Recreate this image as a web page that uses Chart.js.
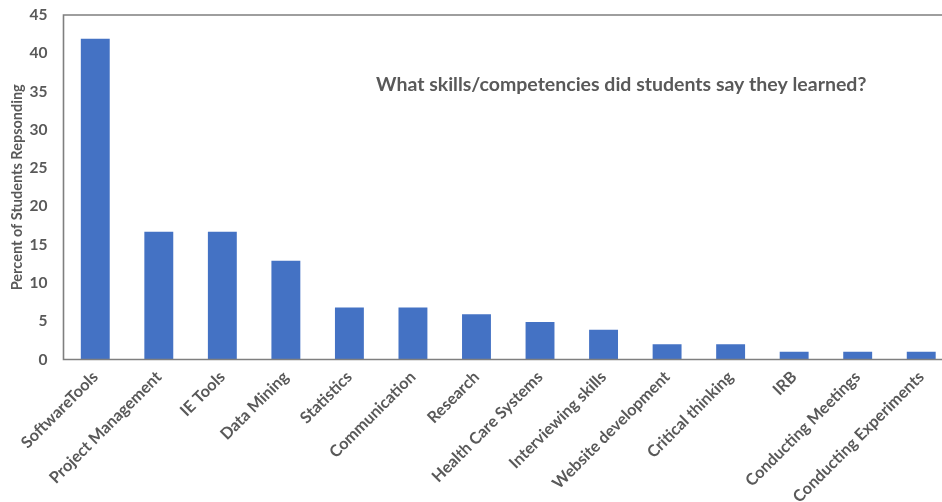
<!DOCTYPE html>
<html>
<head>
<meta charset="utf-8">
<script src="https://cdn.jsdelivr.net/npm/chart.js@4/dist/chart.umd.min.js"></script>
<style>
  html, body { margin: 0; padding: 0; background: #ffffff; overflow: hidden; }
  #wrap { position: relative; width: 955px; height: 502px; }
</style>
</head>
<body>
<div id="wrap"><canvas id="chart"></canvas></div>
<script>
// Skills reported by students (percent responding)
const skills = [
  'SoftwareTools', 'Project Management', 'IE Tools', 'Data Mining', 'Statistics',
  'Communication', 'Research', 'Health Care Systems', 'Interviewing skills',
  'Website development', 'Critical thinking', 'IRB', 'Conducting Meetings',
  'Conducting Experiments'
];
const percentResponding = [41.9, 16.7, 16.7, 12.9, 6.8, 6.8, 5.9, 4.9, 3.9, 2.0, 2.0, 1.0, 1.0, 1.0];
const yTicks = [0, 5, 10, 15, 20, 25, 30, 35, 40, 45];
const chartTitle = 'What skills/competencies did students say they learned?';
const yTitle = 'Percent of Students Repsonding';

const TEXT = '#595959';
const FONT = 'Lato, "Open Sans", "DejaVu Sans", sans-serif';

// Box around the plot area plus the heading written inside it
const plotFrame = {
  id: 'plotFrame',
  afterDatasetsDraw(chart, args, opts) {
    const { ctx, chartArea: a } = chart;
    ctx.save();
    ctx.strokeStyle = opts.lineColor;
    ctx.lineWidth = opts.lineW;
    ctx.beginPath();
    ctx.moveTo(a.right + 5, a.top);
    ctx.lineTo(a.left, a.top);
    ctx.lineTo(a.left, a.bottom);
    ctx.lineTo(a.right + 5, a.bottom);
    ctx.stroke();
    ctx.fillStyle = TEXT;
    ctx.font = 'bold ' + opts.fontSize + 'px ' + FONT;
    ctx.textAlign = 'center';
    ctx.textBaseline = 'middle';
    ctx.fillText(opts.text,
      a.left + opts.fx * (a.right - a.left),
      a.top + opts.fy * (a.bottom - a.top));
    ctx.restore();
  }
};

new Chart(document.getElementById('chart'), {
  type: 'bar',
  data: {
    labels: skills,
    datasets: [{
      data: percentResponding,
      backgroundColor: '#4472C4',
      borderWidth: 0,
      barPercentage: 0.455,
      categoryPercentage: 1.0
    }]
  },
  options: {
    responsive: true,
    maintainAspectRatio: false,
    animation: false,
    layout: { padding: { top: 15, left: 0, right: 2, bottom: 0 } },
    plugins: {
      legend: { display: false },
      tooltip: { enabled: false },
      plotFrame: { lineColor: '#7f7f7f', lineW: 1.6, text: chartTitle, fontSize: 19.5, fx: 0.627, fy: 0.203 }
    },
    scales: {
      x: {
        afterFit(scale) { scale.height = 142.5; },
        grid: { display: false, drawTicks: false },
        border: { display: false },
        ticks: {
          color: TEXT,
          font: { family: FONT, size: 16.2, weight: 'bold' },
          minRotation: 45, maxRotation: 45,
          autoSkip: false,
          padding: 8
        }
      },
      y: {
        min: 0, max: 45,
        afterBuildTicks(scale) { scale.ticks = yTicks.map(v => ({ value: v })); },
        afterFit(scale) {
          scale.width = 63.5;
          // keep the end labels' half height only, not the horizontal gap
          scale.paddingTop = 9;
          scale.paddingBottom = 9;
        },
        grid: { display: false, drawTicks: false },
        border: { display: false },
        ticks: {
          color: TEXT,
          font: { family: FONT, size: 15.5, weight: 'bold' },
          padding: 16
        },
        title: {
          display: true,
          text: yTitle,
          color: TEXT,
          font: { family: FONT, size: 14.5, weight: 'bold' },
          padding: { top: 9, bottom: 0 }
        }
      }
    }
  },
  plugins: [plotFrame]
});
</script>
</body>
</html>
